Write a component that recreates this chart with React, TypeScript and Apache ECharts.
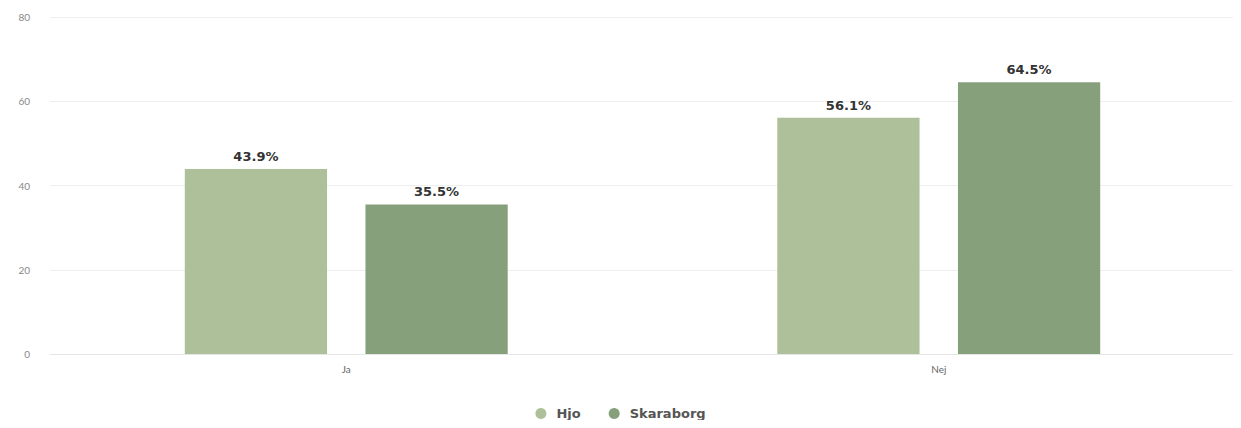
import React, { useEffect, useRef } from "react";
import * as echarts from "echarts";

const categories = ["Ja", "Nej"];
const seriesNames = ["Hjo", "Skaraborg"];
const hjoValues = [43.9, 56.1];
const skaraborgValues = [35.5, 64.5];
const yTicks = [0, 20, 40, 60, 80];

export default function App() {
  const ref = useRef<HTMLDivElement>(null);
  useEffect(() => {
    const chart = echarts.init(ref.current!, undefined, { renderer: "svg" });
    const label = {
      show: true,
      position: "top",
      distance: 6,
      formatter: (p: any) => p.value.toFixed(1) + "%",
      fontWeight: "bold",
      fontSize: 13,
      color: "#333",
      fontFamily: "'DejaVu Sans', sans-serif",
    };
    chart.setOption({
      animation: false,
      textStyle: { fontFamily: "Lato, sans-serif" },
      grid: { left: 50, right: 6, top: 17, bottom: 74 },
      legend: {
        bottom: 3,
        left: "center",
        icon: "circle",
        itemWidth: 11,
        itemHeight: 11,
        itemGap: 28,
        textStyle: {
          fontSize: 13,
          fontWeight: "bold",
          color: "#555",
          fontFamily: "'DejaVu Sans', sans-serif",
          padding: [0, 0, 0, 5],
        },
        data: seriesNames,
      },
      xAxis: {
        type: "category",
        data: categories,
        axisLine: { lineStyle: { color: "#e6e6e6" } },
        axisTick: { show: false },
        axisLabel: { color: "#666", fontSize: 10, margin: 10 },
      },
      yAxis: {
        type: "value",
        min: yTicks[0],
        max: yTicks[yTicks.length - 1],
        interval: 20,
        axisLabel: { color: "#888", fontSize: 10, margin: 20 },
        splitLine: { lineStyle: { color: "#eeeeee" } },
      },
      series: [
        {
          name: seriesNames[0],
          type: "bar",
          data: hjoValues,
          itemStyle: { color: "#adc09a" },
          barGap: "27%",
          barCategoryGap: "45.5%",
          label,
        },
        {
          name: seriesNames[1],
          type: "bar",
          data: skaraborgValues,
          itemStyle: { color: "#87a07c" },
          label,
        },
      ],
    });
    return () => chart.dispose();
  }, []);
  return <div ref={ref} style={{ width: 1241, height: 428, margin: -8 }} />;
}
